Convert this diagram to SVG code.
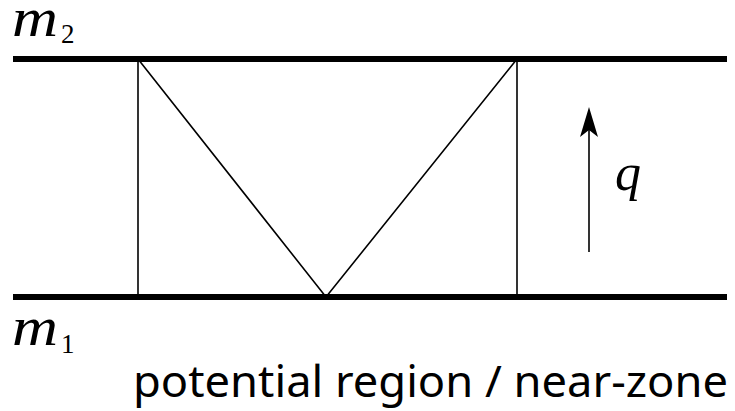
<svg xmlns="http://www.w3.org/2000/svg" width="735" height="411" viewBox="0 0 735 411">
<style>
.thick{stroke:#000;stroke-width:6;fill:none}
.thin{stroke:#000;stroke-width:1.6;fill:none}
.math{font-family:'Liberation Serif','DejaVu Serif',serif;font-style:italic;fill:#000}
.sub{font-family:'Liberation Serif','DejaVu Serif',serif;fill:#000}
.cap{font-family:'Noto Sans',sans-serif;fill:#000}
</style>
<g id="line-m2"><line class="thick" x1="13" y1="59" x2="727" y2="59"/></g>
<g id="line-m1"><line class="thick" x1="13" y1="297" x2="727" y2="297"/></g>
<g id="connectors">
<line class="thin" x1="138" y1="59" x2="138" y2="297"/>
<line class="thin" x1="517" y1="59" x2="517" y2="297"/>
<polyline class="thin" points="138,59 326,297 517,59"/>
<line class="thin" x1="589" y1="252" x2="589" y2="125"/>
<path d="M589,107 L598,137 L589,130 L580,137 Z" fill="#000"/>
</g>
<g id="label-m2"><text class="math" x="12" y="36" font-size="54" textLength="46" lengthAdjust="spacingAndGlyphs">m</text><text class="sub" x="61" y="43" font-size="27">2</text></g>
<g id="label-m1"><text class="math" x="12" y="345" font-size="54" textLength="46" lengthAdjust="spacingAndGlyphs">m</text><text class="sub" x="61" y="353" font-size="27">1</text></g>
<g id="label-q"><text class="math" x="615" y="190" font-size="52">q</text></g>
<g id="caption"><text class="cap" x="133" y="397" font-size="43" textLength="595" lengthAdjust="spacingAndGlyphs">potential region / near-zone</text></g>
</svg>
